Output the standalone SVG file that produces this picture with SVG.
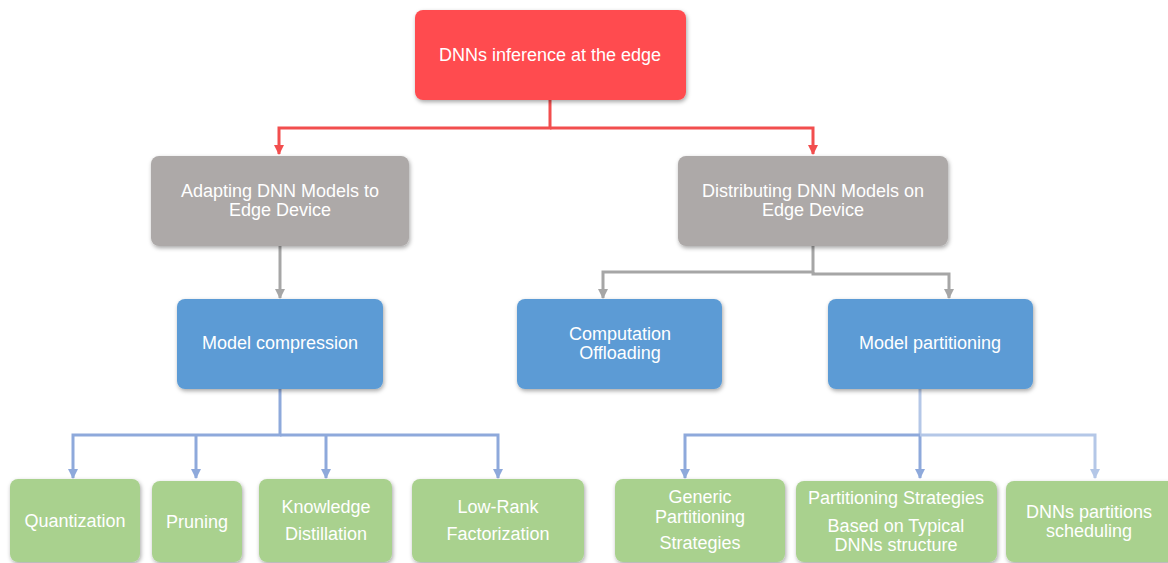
<svg xmlns="http://www.w3.org/2000/svg" width="1168" height="563" viewBox="0 0 1168 563">
  <defs>
    <filter id="shadow" x="-10%" y="-10%" width="125%" height="130%">
      <feDropShadow dx="1" dy="2" stdDeviation="2" flood-color="#000" flood-opacity="0.35"/>
    </filter>
    <marker id="arrGray" viewBox="0 0 10 10" refX="9" refY="5" markerWidth="10" markerHeight="10" markerUnits="userSpaceOnUse" orient="auto">
      <path d="M0,0 L10,5 L0,10 Z" fill="#A6A6A6"/>
    </marker>
    <marker id="arrRed" viewBox="0 0 10 10" refX="9" refY="5" markerWidth="10" markerHeight="10" markerUnits="userSpaceOnUse" orient="auto">
      <path d="M0,0 L10,5 L0,10 Z" fill="#F24E4E"/>
    </marker>
    <marker id="arrBlue" viewBox="0 0 10 10" refX="9" refY="5" markerWidth="10" markerHeight="10" markerUnits="userSpaceOnUse" orient="auto">
      <path d="M0,0 L10,5 L0,10 Z" fill="#8EA9DB"/>
    </marker>
    <marker id="arrLight" viewBox="0 0 10 10" refX="9" refY="5" markerWidth="10" markerHeight="10" markerUnits="userSpaceOnUse" orient="auto">
      <path d="M0,0 L10,5 L0,10 Z" fill="#B4C7E7"/>
    </marker>
  </defs>
  <style>
    .box { filter: url(#shadow); }
    .red { fill: #FF4B4F; }
    .gray { fill: #ADA9A8; }
    .blue { fill: #5B9BD5; }
    .green { fill: #A9D18E; }
    text { font-family: "Liberation Sans", Arial, sans-serif; font-size: 18px; fill: #FFFFFF; text-anchor: middle; }
    .c { fill: none; stroke-width: 3; }
    .cr { stroke: #F24E4E; }
    .cg { stroke: #A6A6A6; }
    .cb { stroke: #8EA9DB; }
    .cl { stroke: #B4C7E7; }
  </style>

  <rect width="1168" height="563" fill="#FFFFFF"/>

  <!-- connectors -->
  <g id="connectors">
    <path class="c cr" d="M550,100 V128 H279 V154" marker-end="url(#arrRed)"/>
    <path class="c cr" d="M550,128 H813 V154" marker-end="url(#arrRed)"/>
    <path class="c cg" d="M280,246 V298" marker-end="url(#arrGray)"/>
    <path class="c cg" d="M813,246 V272 H603 V298" marker-end="url(#arrGray)"/>
    <path class="c cg" d="M813,272 V274 H949 V298" marker-end="url(#arrGray)"/>
    <path class="c cb" d="M280,389 V435 H73 V478" marker-end="url(#arrBlue)"/>
    <path class="c cb" d="M196,435 V478" marker-end="url(#arrBlue)"/>
    <path class="c cb" d="M280,435 H498 V478" marker-end="url(#arrBlue)"/>
    <path class="c cb" d="M326,435 V478" marker-end="url(#arrBlue)"/>
    <path class="c cl" d="M920,389 V435"/>
    <path class="c cb" d="M920,435 H685 V478" marker-end="url(#arrBlue)"/>
    <path class="c cb" d="M920,435 V478" marker-end="url(#arrBlue)"/>
    <path class="c cl" d="M920,435 H1095 V478" marker-end="url(#arrLight)"/>
  </g>

  <g id="root">
    <rect class="box red" x="415" y="10" width="271" height="90" rx="8"/>
    <text x="550" y="61">DNNs inference at the edge</text>
  </g>

  <g id="adapting">
    <rect class="box gray" x="151" y="156" width="258" height="90" rx="8"/>
    <text x="280" y="197">Adapting DNN Models to</text>
    <text x="280" y="216">Edge Device</text>
  </g>

  <g id="distributing">
    <rect class="box gray" x="678" y="156" width="270" height="90" rx="8"/>
    <text x="813" y="197">Distributing DNN Models on</text>
    <text x="813" y="216">Edge Device</text>
  </g>

  <g id="model-compression">
    <rect class="box blue" x="177" y="299" width="206" height="90" rx="8"/>
    <text x="280" y="349">Model compression</text>
  </g>

  <g id="computation-offloading">
    <rect class="box blue" x="517" y="299" width="205" height="90" rx="8"/>
    <text x="620" y="340">Computation</text>
    <text x="620" y="359">Offloading</text>
  </g>

  <g id="model-partitioning">
    <rect class="box blue" x="828" y="299" width="205" height="90" rx="8"/>
    <text x="930" y="349">Model partitioning</text>
  </g>

  <g id="quantization">
    <rect class="box green" x="10" y="479" width="130" height="83" rx="8"/>
    <text x="75" y="527">Quantization</text>
  </g>

  <g id="pruning">
    <rect class="box green" x="152" y="481" width="90" height="81" rx="8"/>
    <text x="197" y="528">Pruning</text>
  </g>

  <g id="knowledge-distillation">
    <rect class="box green" x="259" y="479" width="133" height="83" rx="8"/>
    <text x="326" y="513">Knowledge</text>
    <text x="326" y="540">Distillation</text>
  </g>

  <g id="low-rank">
    <rect class="box green" x="412" y="479" width="172" height="83" rx="8"/>
    <text x="498" y="513">Low-Rank</text>
    <text x="498" y="540">Factorization</text>
  </g>

  <g id="generic-partitioning">
    <rect class="box green" x="615" y="479" width="170" height="83" rx="8"/>
    <text x="700" y="503">Generic</text>
    <text x="700" y="523">Partitioning</text>
    <text x="700" y="549">Strategies</text>
  </g>

  <g id="typical-structure">
    <rect class="box green" x="796" y="481" width="201" height="81" rx="8"/>
    <text x="896" y="504">Partitioning Strategies</text>
    <text x="896" y="532">Based on Typical</text>
    <text x="896" y="551">DNNs structure</text>
  </g>

  <g id="partition-scheduling">
    <rect class="box green" x="1006" y="481" width="170" height="81" rx="8"/>
    <text x="1089" y="518">DNNs partitions</text>
    <text x="1089" y="537">scheduling</text>
  </g>
</svg>
